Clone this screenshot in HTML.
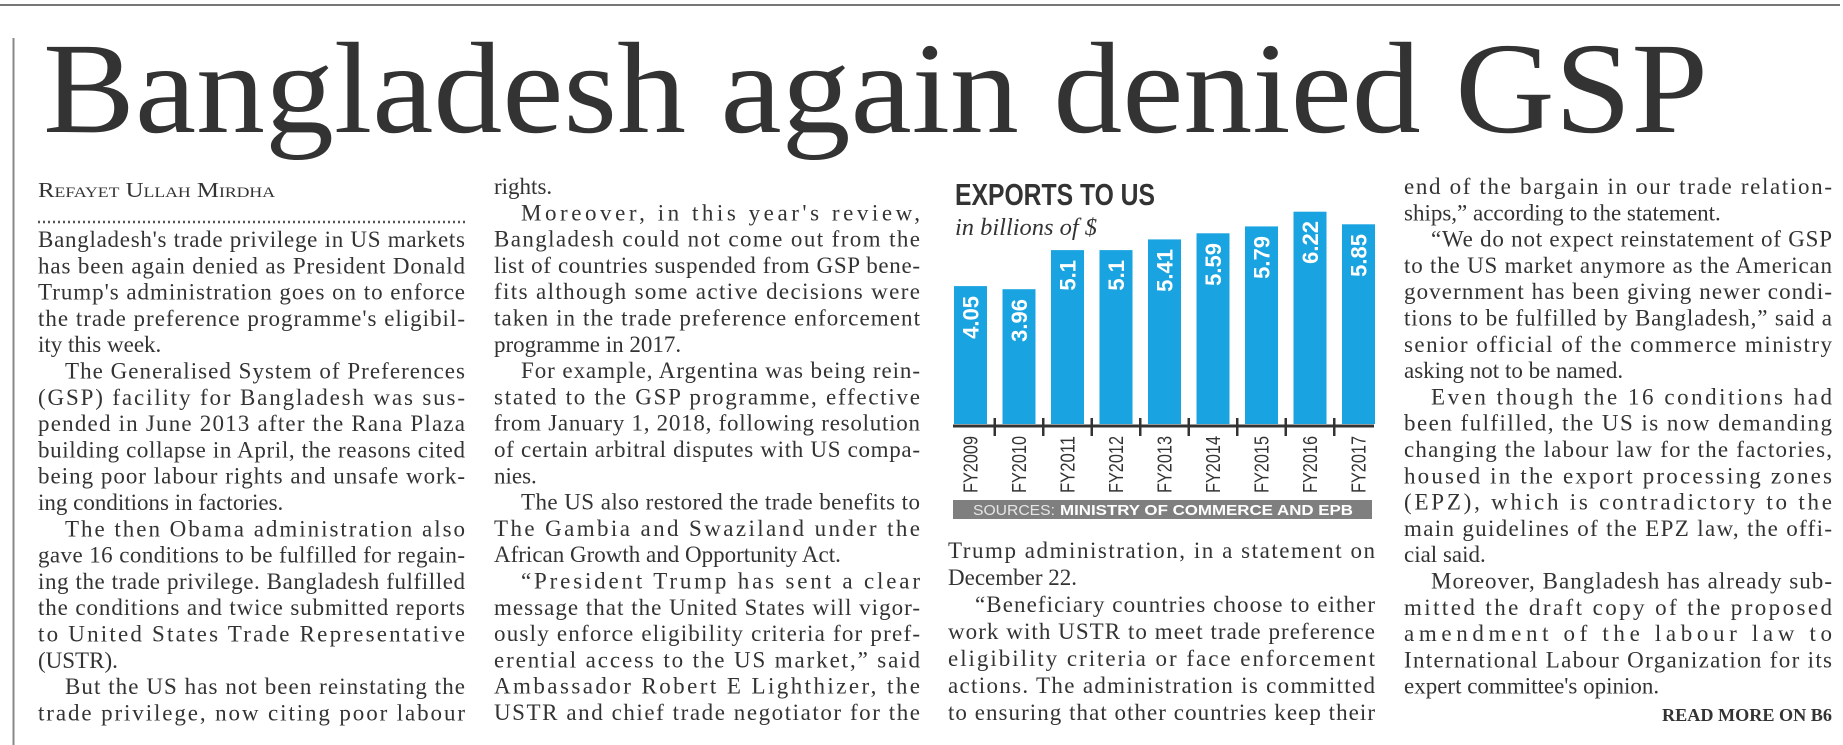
<!DOCTYPE html>
<html><head><meta charset="utf-8"><style>
html,body{margin:0;padding:0;background:#fff;}
svg{display:block;}
.b{font-family:"Liberation Serif",serif;font-size:23px;fill:#333;}
</style></head><body>
<svg width="1843" height="745" xmlns="http://www.w3.org/2000/svg">
<rect width="1843" height="745" fill="#fff"/>
<line x1="0" y1="5" x2="1840" y2="5" stroke="#777" stroke-width="2"/>
<line x1="13.5" y1="38" x2="13.5" y2="745" stroke="#888" stroke-width="2"/>
<text x="43" y="132" font-family="Liberation Serif,serif" font-size="130" fill="#333" textLength="1665" lengthAdjust="spacingAndGlyphs">Bangladesh again denied GSP</text>
<text x="38" y="197" font-family="Liberation Serif,serif" font-size="21" fill="#333" font-variant="small-caps" textLength="237" lengthAdjust="spacingAndGlyphs">Refayet Ullah Mirdha</text>
<line x1="38" y1="222" x2="465" y2="222" stroke="#555" stroke-width="2.5" stroke-dasharray="2,3"/>

<g class="b">
<text x="38" y="247" textLength="427" lengthAdjust="spacing">Bangladesh's trade privilege in US markets</text>
<text x="38" y="273.3" textLength="427" lengthAdjust="spacing">has been again denied as President Donald</text>
<text x="38" y="299.6" textLength="427" lengthAdjust="spacing">Trump's administration goes on to enforce</text>
<text x="38" y="325.9" textLength="427" lengthAdjust="spacing">the trade preference programme's eligibil-</text>
<text x="38" y="352.2">ity this week.</text>
<text x="65" y="378.5" textLength="400" lengthAdjust="spacing">The Generalised System of Preferences</text>
<text x="38" y="404.8" textLength="427" lengthAdjust="spacing">(GSP) facility for Bangladesh was sus-</text>
<text x="38" y="431.1" textLength="427" lengthAdjust="spacing">pended in June 2013 after the Rana Plaza</text>
<text x="38" y="457.4" textLength="427" lengthAdjust="spacing">building collapse in April, the reasons cited</text>
<text x="38" y="483.7" textLength="427" lengthAdjust="spacing">being poor labour rights and unsafe work-</text>
<text x="38" y="510">ing conditions in factories.</text>
<text x="65" y="536.3" textLength="400" lengthAdjust="spacing">The then Obama administration also</text>
<text x="38" y="562.6" textLength="427" lengthAdjust="spacing">gave 16 conditions to be fulfilled for regain-</text>
<text x="38" y="588.9" textLength="427" lengthAdjust="spacing">ing the trade privilege. Bangladesh fulfilled</text>
<text x="38" y="615.2" textLength="427" lengthAdjust="spacing">the conditions and twice submitted reports</text>
<text x="38" y="641.5" textLength="427" lengthAdjust="spacing">to United States Trade Representative</text>
<text x="38" y="667.8">(USTR).</text>
<text x="65" y="694.1" textLength="400" lengthAdjust="spacing">But the US has not been reinstating the</text>
<text x="38" y="720.4" textLength="427" lengthAdjust="spacing">trade privilege, now citing poor labour</text>

<text x="494" y="194">rights.</text>
<text x="521" y="220.3" textLength="399" lengthAdjust="spacing">Moreover, in this year's review,</text>
<text x="494" y="246.6" textLength="426" lengthAdjust="spacing">Bangladesh could not come out from the</text>
<text x="494" y="272.9" textLength="426" lengthAdjust="spacing">list of countries suspended from GSP bene-</text>
<text x="494" y="299.2" textLength="426" lengthAdjust="spacing">fits although some active decisions were</text>
<text x="494" y="325.5" textLength="426" lengthAdjust="spacing">taken in the trade preference enforcement</text>
<text x="494" y="351.8">programme in 2017.</text>
<text x="521" y="378.1" textLength="399" lengthAdjust="spacing">For example, Argentina was being rein-</text>
<text x="494" y="404.4" textLength="426" lengthAdjust="spacing">stated to the GSP programme, effective</text>
<text x="494" y="430.7" textLength="426" lengthAdjust="spacing">from January 1, 2018, following resolution</text>
<text x="494" y="457" textLength="426" lengthAdjust="spacing">of certain arbitral disputes with US compa-</text>
<text x="494" y="483.3">nies.</text>
<text x="521" y="509.6" textLength="399" lengthAdjust="spacing">The US also restored the trade benefits to</text>
<text x="494" y="535.9" textLength="426" lengthAdjust="spacing">The Gambia and Swaziland under the</text>
<text x="494" y="562.2">African Growth and Opportunity Act.</text>
<text x="521" y="588.5" textLength="399" lengthAdjust="spacing">“President Trump has sent a clear</text>
<text x="494" y="614.8" textLength="426" lengthAdjust="spacing">message that the United States will vigor-</text>
<text x="494" y="641.1" textLength="426" lengthAdjust="spacing">ously enforce eligibility criteria for pref-</text>
<text x="494" y="667.4" textLength="426" lengthAdjust="spacing">erential access to the US market,” said</text>
<text x="494" y="693.7" textLength="426" lengthAdjust="spacing">Ambassador Robert E Lighthizer, the</text>
<text x="494" y="720" textLength="426" lengthAdjust="spacing">USTR and chief trade negotiator for the</text>

<text x="948" y="558" textLength="427" lengthAdjust="spacing">Trump administration, in a statement on</text>
<text x="948" y="585">December 22.</text>
<text x="975" y="612" textLength="400" lengthAdjust="spacing">“Beneficiary countries choose to either</text>
<text x="948" y="639" textLength="427" lengthAdjust="spacing">work with USTR to meet trade preference</text>
<text x="948" y="666" textLength="427" lengthAdjust="spacing">eligibility criteria or face enforcement</text>
<text x="948" y="693" textLength="427" lengthAdjust="spacing">actions. The administration is committed</text>
<text x="948" y="720" textLength="427" lengthAdjust="spacing">to ensuring that other countries keep their</text>

<text x="1404" y="194" textLength="428" lengthAdjust="spacing">end of the bargain in our trade relation-</text>
<text x="1404" y="220.3">ships,” according to the statement.</text>
<text x="1431" y="246.6" textLength="401" lengthAdjust="spacing">“We do not expect reinstatement of GSP</text>
<text x="1404" y="272.9" textLength="428" lengthAdjust="spacing">to the US market anymore as the American</text>
<text x="1404" y="299.2" textLength="428" lengthAdjust="spacing">government has been giving newer condi-</text>
<text x="1404" y="325.5" textLength="428" lengthAdjust="spacing">tions to be fulfilled by Bangladesh,” said a</text>
<text x="1404" y="351.8" textLength="428" lengthAdjust="spacing">senior official of the commerce ministry</text>
<text x="1404" y="378.1">asking not to be named.</text>
<text x="1431" y="404.4" textLength="401" lengthAdjust="spacing">Even though the 16 conditions had</text>
<text x="1404" y="430.7" textLength="428" lengthAdjust="spacing">been fulfilled, the US is now demanding</text>
<text x="1404" y="457" textLength="428" lengthAdjust="spacing">changing the labour law for the factories,</text>
<text x="1404" y="483.3" textLength="428" lengthAdjust="spacing">housed in the export processing zones</text>
<text x="1404" y="509.6" textLength="428" lengthAdjust="spacing">(EPZ), which is contradictory to the</text>
<text x="1404" y="535.9" textLength="428" lengthAdjust="spacing">main guidelines of the EPZ law, the offi-</text>
<text x="1404" y="562.2">cial said.</text>
<text x="1431" y="588.5" textLength="401" lengthAdjust="spacing">Moreover, Bangladesh has already sub-</text>
<text x="1404" y="614.8" textLength="428" lengthAdjust="spacing">mitted the draft copy of the proposed</text>
<text x="1404" y="641.1" textLength="428" lengthAdjust="spacing">amendment of the labour law to</text>
<text x="1404" y="667.4" textLength="428" lengthAdjust="spacing">International Labour Organization for its</text>
<text x="1404" y="693.7">expert committee's opinion.</text>
</g>
<text x="1832" y="721" text-anchor="end" font-family="Liberation Serif,serif" font-size="18" font-weight="bold" fill="#333" textLength="170" lengthAdjust="spacingAndGlyphs">READ MORE ON B6</text>

<!-- chart -->
<text x="955" y="205" font-family="Liberation Sans,sans-serif" font-weight="bold" font-size="31" fill="#333" textLength="200" lengthAdjust="spacingAndGlyphs">EXPORTS TO US</text>
<text x="955" y="235" font-family="Liberation Serif,serif" font-style="italic" font-size="24" fill="#333" textLength="142" lengthAdjust="spacingAndGlyphs">in billions of $</text>
<g fill="#1aa3e1">
<rect x="954" y="286.1" width="33" height="137.9"/>
<rect x="1002.5" y="289.2" width="33" height="134.8"/>
<rect x="1051" y="250.1" width="33" height="173.9"/>
<rect x="1099.5" y="250.1" width="33" height="173.9"/>
<rect x="1148" y="239.4" width="33" height="184.6"/>
<rect x="1196.5" y="233.3" width="33" height="190.7"/>
<rect x="1245" y="226.4" width="33" height="197.6"/>
<rect x="1293.5" y="211.7" width="33" height="212.3"/>
<rect x="1342" y="224.3" width="33" height="199.7"/>
</g>
<g font-family="Liberation Sans,sans-serif" font-weight="bold" font-size="22" fill="#fff" text-anchor="end">
<text transform="translate(970.5,296) rotate(-90)" dy="8">4.05</text>
<text transform="translate(1019,299) rotate(-90)" dy="8">3.96</text>
<text transform="translate(1067.5,260) rotate(-90)" dy="8">5.1</text>
<text transform="translate(1116,260) rotate(-90)" dy="8">5.1</text>
<text transform="translate(1164.5,249) rotate(-90)" dy="8">5.41</text>
<text transform="translate(1213,243) rotate(-90)" dy="8">5.59</text>
<text transform="translate(1261.5,236) rotate(-90)" dy="8">5.79</text>
<text transform="translate(1310,221) rotate(-90)" dy="8">6.22</text>
<text transform="translate(1358.5,234) rotate(-90)" dy="8">5.85</text>
</g>
<line x1="953" y1="426" x2="1374" y2="426" stroke="#333" stroke-width="3"/>
<g stroke="#333" stroke-width="2.5">
<line x1="994.75" y1="418" x2="994.75" y2="436"/>
<line x1="1043.25" y1="418" x2="1043.25" y2="436"/>
<line x1="1091.75" y1="418" x2="1091.75" y2="436"/>
<line x1="1140.25" y1="418" x2="1140.25" y2="436"/>
<line x1="1188.75" y1="418" x2="1188.75" y2="436"/>
<line x1="1237.25" y1="418" x2="1237.25" y2="436"/>
<line x1="1285.75" y1="418" x2="1285.75" y2="436"/>
<line x1="1334.25" y1="418" x2="1334.25" y2="436"/>
</g>
<g font-family="Liberation Sans,sans-serif" font-size="20" fill="#333" text-anchor="end">
<text transform="translate(970.5,436) rotate(-90)" dy="7" textLength="57" lengthAdjust="spacingAndGlyphs">FY2009</text>
<text transform="translate(1019,436) rotate(-90)" dy="7" textLength="57" lengthAdjust="spacingAndGlyphs">FY2010</text>
<text transform="translate(1067.5,436) rotate(-90)" dy="7" textLength="57" lengthAdjust="spacingAndGlyphs">FY2011</text>
<text transform="translate(1116,436) rotate(-90)" dy="7" textLength="57" lengthAdjust="spacingAndGlyphs">FY2012</text>
<text transform="translate(1164.5,436) rotate(-90)" dy="7" textLength="57" lengthAdjust="spacingAndGlyphs">FY2013</text>
<text transform="translate(1213,436) rotate(-90)" dy="7" textLength="57" lengthAdjust="spacingAndGlyphs">FY2014</text>
<text transform="translate(1261.5,436) rotate(-90)" dy="7" textLength="57" lengthAdjust="spacingAndGlyphs">FY2015</text>
<text transform="translate(1310,436) rotate(-90)" dy="7" textLength="57" lengthAdjust="spacingAndGlyphs">FY2016</text>
<text transform="translate(1358.5,436) rotate(-90)" dy="7" textLength="57" lengthAdjust="spacingAndGlyphs">FY2017</text>
</g>
<rect x="953" y="500" width="419" height="19" fill="#7f7f7f"/>
<text x="973" y="515" font-family="Liberation Sans,sans-serif" font-size="15" fill="#e6e6e6" textLength="82" lengthAdjust="spacingAndGlyphs">SOURCES:</text>
<text x="1060" y="515" font-family="Liberation Sans,sans-serif" font-size="15" font-weight="bold" fill="#fff" textLength="293" lengthAdjust="spacingAndGlyphs">MINISTRY OF COMMERCE AND EPB</text>
</svg>
</body></html>
